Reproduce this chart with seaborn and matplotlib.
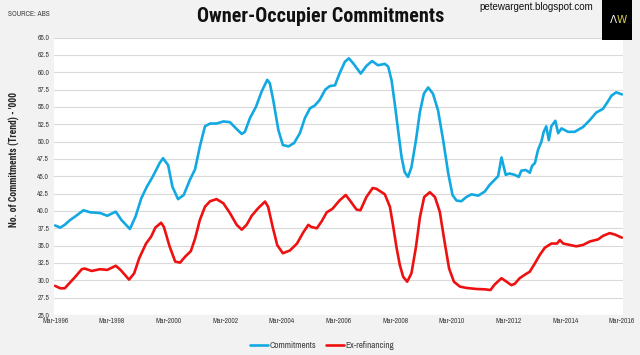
import matplotlib
matplotlib.use("Agg")
import matplotlib.pyplot as plt
import seaborn as sns
import pandas as pd
from matplotlib.patches import Rectangle

# ---- data (x in decimal years) ----
comm_year = [1996.16, 1996.34, 1996.50, 1996.69, 1996.87, 1997.16, 1997.40, 1997.75, 1998.00, 1998.30,
             1998.50, 1998.80, 1999.00, 1999.20, 1999.40, 1999.60, 1999.85, 1999.97, 2000.15, 2000.30,
             2000.50, 2000.70, 2000.92, 2001.10, 2001.27, 2001.45, 2001.63, 2001.86, 2002.10, 2002.33,
             2002.57, 2002.75, 2002.86, 2003.04, 2003.25, 2003.45, 2003.65, 2003.74, 2003.86, 2004.04,
             2004.20, 2004.40, 2004.60, 2004.80, 2004.98, 2005.16, 2005.33, 2005.50, 2005.70, 2005.86,
             2006.04, 2006.20, 2006.39, 2006.53, 2006.68, 2006.95, 2007.15, 2007.35, 2007.56, 2007.80,
             2007.92, 2008.04, 2008.15, 2008.27, 2008.39, 2008.50, 2008.62, 2008.74, 2008.90, 2009.04,
             2009.18, 2009.33, 2009.50, 2009.68, 2009.86, 2010.04, 2010.19, 2010.33, 2010.50, 2010.68,
             2010.86, 2011.10, 2011.33, 2011.50, 2011.68, 2011.80, 2011.92, 2012.07, 2012.20, 2012.39,
             2012.53, 2012.62, 2012.78, 2012.92, 2013.00, 2013.10, 2013.21, 2013.33, 2013.41, 2013.50,
             2013.59, 2013.68, 2013.82, 2013.92, 2014.04, 2014.27, 2014.50, 2014.80, 2015.04, 2015.27,
             2015.50, 2015.68, 2015.80, 2015.97, 2016.17]
comm_val = [37.9, 37.6, 38.0, 38.7, 39.2, 40.1, 39.8, 39.7, 39.3, 39.9,
            38.7, 37.4, 39.2, 41.8, 43.5, 44.9, 46.9, 47.6, 46.6, 43.5,
            41.7, 42.3, 44.5, 46.0, 49.3, 52.2, 52.6, 52.6, 52.9, 52.8,
            51.8, 51.1, 51.4, 53.4, 55.0, 57.2, 58.9, 58.4, 56.0, 51.7,
            49.5, 49.3, 49.8, 51.2, 53.4, 54.8, 55.2, 56.0, 57.5, 58.0,
            58.1, 59.8, 61.5, 62.0, 61.3, 59.8, 60.9, 61.6, 61.0, 61.2,
            60.8, 58.8, 55.5, 51.6, 47.8, 45.6, 44.9, 46.3, 50.2, 54.3,
            56.9, 57.8, 56.9, 54.5, 50.2, 45.4, 42.3, 41.5, 41.4, 42.0,
            42.4, 42.2, 42.8, 43.75, 44.5, 45.0, 47.7, 45.2, 45.4, 45.2,
            44.9, 45.8, 45.9, 45.5, 46.5, 46.9, 48.8, 50.0, 51.4, 52.2,
            50.2, 52.2, 53.0, 51.2, 51.9, 51.4, 51.4, 52.1, 53.1, 54.2,
            54.7, 55.8, 56.6, 57.1, 56.8]

exref_year = [1996.16, 1996.34, 1996.50, 1996.69, 1996.87, 1997.10, 1997.20, 1997.45, 1997.75, 1998.00,
              1998.30, 1998.47, 1998.77, 1998.95, 1999.13, 1999.37, 1999.55, 1999.70, 1999.90, 2000.00,
              2000.20, 2000.40, 2000.57, 2000.75, 2000.95, 2001.10, 2001.27, 2001.45, 2001.63, 2001.86,
              2002.10, 2002.33, 2002.57, 2002.75, 2002.92, 2003.10, 2003.33, 2003.57, 2003.68, 2003.84,
              2004.00, 2004.20, 2004.45, 2004.70, 2004.92, 2005.10, 2005.20, 2005.40, 2005.57, 2005.75,
              2005.95, 2006.20, 2006.42, 2006.57, 2006.80, 2006.94, 2007.15, 2007.37, 2007.50, 2007.80,
              2007.98, 2008.10, 2008.21, 2008.33, 2008.45, 2008.59, 2008.74, 2008.90, 2009.04, 2009.19,
              2009.39, 2009.57, 2009.74, 2009.92, 2010.07, 2010.24, 2010.45, 2010.68, 2011.04, 2011.33,
              2011.53, 2011.68, 2011.92, 2012.10, 2012.27, 2012.39, 2012.56, 2012.74, 2012.92, 2013.10,
              2013.27, 2013.45, 2013.68, 2013.88, 2013.98, 2014.10, 2014.33, 2014.56, 2014.80, 2015.04,
              2015.33, 2015.50, 2015.74, 2015.92, 2016.17]
exref_val = [29.2, 28.85, 28.85, 29.7, 30.5, 31.6, 31.7, 31.35, 31.6, 31.5,
             32.1, 31.5, 30.1, 31.0, 33.2, 35.3, 36.3, 37.6, 38.3, 37.7,
             34.9, 32.7, 32.55, 33.4, 34.2, 36.0, 38.7, 40.6, 41.4, 41.7,
             41.1, 39.7, 38.0, 37.3, 38.0, 39.3, 40.4, 41.35, 40.6, 37.7,
             35.1, 33.9, 34.3, 35.3, 36.9, 38.0, 37.7, 37.5, 38.5, 39.8,
             40.3, 41.5, 42.3, 41.5, 40.2, 40.1, 42.0, 43.3, 43.2, 42.4,
             40.6, 37.7, 34.8, 32.2, 30.5, 29.8, 31.0, 34.8, 39.1, 42.0,
             42.7, 42.0, 39.9, 35.3, 31.7, 29.8, 29.1, 28.9, 28.75, 28.7,
             28.6, 29.4, 30.3, 29.8, 29.3, 29.5, 30.3, 30.8, 31.25, 32.45,
             33.65, 34.7, 35.3, 35.3, 35.8, 35.3, 35.1, 34.9, 35.1, 35.6,
             35.9, 36.4, 36.8, 36.6, 36.15]

tick_years = [1996.167, 1998.167, 2000.167, 2002.167, 2004.167, 2006.167,
              2008.167, 2010.167, 2012.167, 2014.167, 2016.167]
tick_labels = ["Mar-1996", "Mar-1998", "Mar-2000", "Mar-2002", "Mar-2004", "Mar-2006",
               "Mar-2008", "Mar-2010", "Mar-2012", "Mar-2014", "Mar-2016"]
y_ticks = [25.0 + 2.5 * i for i in range(17)]

series_names = ["Commitments", "Ex-refinancing"]
colors = ["#12a9e2", "#ee1111"]

# ---- style ----
sns.set_theme(style="white")
narrow = ["Archivo Narrow", "DejaVu Sans"]
cond_bold = ["Roboto Condensed", "DejaVu Sans"]
plt.rcParams["font.family"] = narrow

BG = "#f2f2f2"
fig = plt.figure(figsize=(6.4, 3.55), dpi=100, facecolor=BG)
W, H = 640, 355
x0, x1, ytop, ybot = 54, 623, 37.5, 315
ax = fig.add_axes([x0 / W, 1 - ybot / H, (x1 - x0) / W, (ybot - ytop) / H])
ax.set_facecolor("white")

df_c = pd.DataFrame({"year": comm_year, "value": comm_val})
df_e = pd.DataFrame({"year": exref_year, "value": exref_val})
sns.lineplot(data=df_c, x="year", y="value", ax=ax, color=colors[0], linewidth=1.9,
             label=series_names[0], estimator=None, solid_joinstyle="round", solid_capstyle="round")
sns.lineplot(data=df_e, x="year", y="value", ax=ax, color=colors[1], linewidth=1.9,
             label=series_names[1], estimator=None, solid_joinstyle="round", solid_capstyle="round")

ax.set_xlim(1996.12, 2016.21)
ax.set_ylim(25, 65)
ax.set_yticks(y_ticks)
ax.set_yticklabels([f"{v:.1f}" for v in y_ticks])
ax.set_xticks(tick_years)
ax.set_xticklabels(tick_labels)
ax.tick_params(axis="both", length=0, labelsize=5.4, colors="#404040")
ax.tick_params(axis="y", pad=3.5)
ax.tick_params(axis="x", pad=2.5)
ax.grid(axis="y", color="#d9d9d9", linewidth=0.8)
ax.grid(axis="x", visible=False)
for s in ax.spines.values():
    s.set_visible(False)
ax.set_xlabel("")
ax.set_ylabel("")
fig.text(14 / W, 1 - 159 / H, "No. of Commitments (Trend) - '000", rotation=90,
         ha="center", va="center", fontsize=6.9, fontweight="bold", color="#262626",
         family=cond_bold)

# legend at bottom
ax.get_legend().remove()
handles, labels = ax.get_legend_handles_labels()
fig.legend(handles, labels, loc="center", bbox_to_anchor=(322 / W, 1 - 345.5 / H), ncol=2,
           frameon=False, prop={"size": 6.6}, handlelength=2.0, handletextpad=0.1,
           columnspacing=1.1, labelcolor="#404040")

# header texts
fig.text(321 / W, 1 - 17 / H, "Owner-Occupier Commitments", ha="center", va="center",
         fontsize=14.5, fontweight="bold", color="#111111", family=cond_bold)
fig.text(8 / W, 1 - 14 / H, "SOURCE: ABS", ha="left", va="center", fontsize=5.4, color="#404040")
fig.text(593 / W, 1 - 7 / H, "petewargent.blogspot.com", ha="right", va="center",
         fontsize=7, color="#111111", family=["Liberation Sans", "DejaVu Sans"])
fig.patches.append(Rectangle((602 / W, 1 - 40 / H), 30 / W, 40 / H, transform=fig.transFigure,
                             facecolor="black", edgecolor="none"))
fig.text(617 / W, 1 - 20 / H, "Λ", ha="right", va="center", fontsize=7.5,
         color="#f4f4f4", family=["DejaVu Sans"])
fig.text(617 / W, 1 - 20 / H, "W", ha="left", va="center", fontsize=7.5,
         color="#d8cf4a", family=["DejaVu Sans"])

fig.savefig("out.png", dpi=100, facecolor=BG)
